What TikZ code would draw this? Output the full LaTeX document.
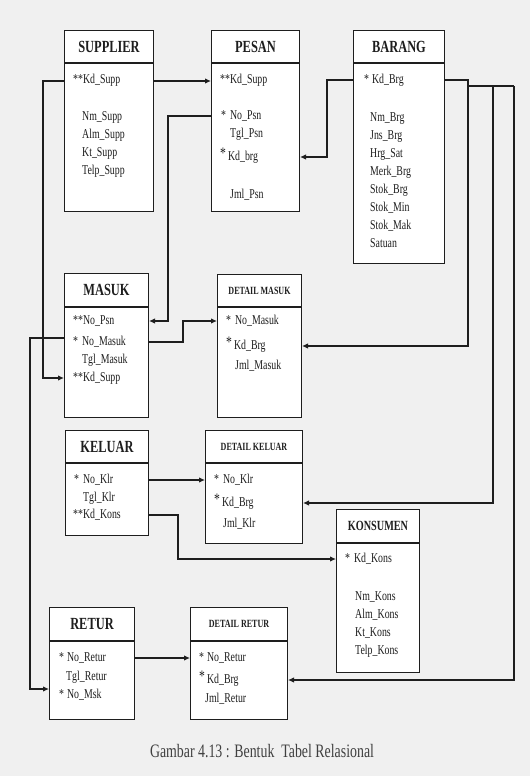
\documentclass[tikz,border=0pt]{standalone}
\usepackage{fontspec}
\setmainfont{Liberation Serif}[FakeStretch=0.73]
\usetikzlibrary{arrows.meta,calc}
\definecolor{bg}{HTML}{F0F0F0}
\definecolor{ink}{HTML}{1E1E1E}
\tikzset{
  tbox/.style={draw=ink, line width=1pt, fill=white, inner sep=0pt, anchor=north west, text=ink},
  thead/.style={tbox, font=\fontsize{17}{17}\selectfont\bfseries},
  dhead/.style={tbox, font=\fontsize{11}{11}\selectfont\bfseries},
  fld/.style={anchor=west, inner sep=0pt, text height=9pt, text depth=3pt, font=\fontsize{13.5}{16}\selectfont, text=ink},
  link/.style={draw=ink, line width=1.1pt},
  arr/.style={link, -{Latex[length=6pt,width=5.5pt]}},
  capt/.style={inner sep=0pt, font=\fontsize{19}{19}\selectfont, text=ink!85}
}
\newcommand{\bstar}{\raisebox{1.5pt}{\fontsize{16}{16}\selectfont *}}
\begin{document}
\begin{tikzpicture}[x=1pt,y=1pt]
\useasboundingbox (0,0) rectangle (530,-776);
\fill[bg] (0,0) rectangle (530,-776);

% SUPPLIER
\node[thead, minimum width=89pt, minimum height=32pt] (sh) at (64,-30) {SUPPLIER};
\node[tbox, minimum width=89pt, minimum height=148pt] (sb) at (sh.south west) {};
\node[fld] (s1) at (73,-81) {**Kd\_Supp};
\node[fld] (s2) at (82,-117) {Nm\_Supp};
\node[fld] (s3) at (82,-135) {Alm\_Supp};
\node[fld] (s4) at (82,-153) {Kt\_Supp};
\node[fld] (s5) at (82,-171) {Telp\_Supp};

% PESAN
\node[thead, minimum width=88pt, minimum height=32pt] (ph) at (211,-30) {PESAN};
\node[tbox, minimum width=88pt, minimum height=148pt] (pb) at (ph.south west) {};
\node[fld] (p1) at (220,-81) {**Kd\_Supp};
\node[fld] (p2) at (221,-116) {*\hspace{4pt}No\_Psn};
\node[fld] (p3) at (230,-134) {Tgl\_Psn};
\node[fld] (p4) at (220,-157) {\bstar\hspace{2pt}Kd\_brg};
\node[fld] (p5) at (230,-195) {Jml\_Psn};

% BARANG
\node[thead, minimum width=91pt, minimum height=32pt] (bh) at (353,-30) {BARANG};
\node[tbox, minimum width=91pt, minimum height=200pt] (bb) at (bh.south west) {};
\node[fld] (b1) at (364,-80) {*\hspace{3pt}Kd\_Brg};
\node[fld] (b2) at (370,-118) {Nm\_Brg};
\node[fld] (b3) at (370,-136) {Jns\_Brg};
\node[fld] (b4) at (370,-154) {Hrg\_Sat};
\node[fld] (b5) at (370,-172) {Merk\_Brg};
\node[fld] (b6) at (370,-190) {Stok\_Brg};
\node[fld] (b7) at (370,-208) {Stok\_Min};
\node[fld] (b8) at (370,-226) {Stok\_Mak};
\node[fld] (b9) at (370,-244) {Satuan};

% MASUK
\node[thead, minimum width=84pt, minimum height=33pt] (mh) at (64,-273) {MASUK};
\node[tbox, minimum width=84pt, minimum height=110pt] (mb) at (mh.south west) {};
\node[fld] (m1) at (73,-321) {**No\_Psn};
\node[fld] (m2) at (73,-342) {*\hspace{4pt}No\_Masuk};
\node[fld] (m3) at (82,-360) {Tgl\_Masuk};
\node[fld] (m4) at (73,-378) {**Kd\_Supp};

% DETAIL MASUK
\node[dhead, minimum width=84pt, minimum height=32pt] (dmh) at (217,-274) {DETAIL MASUK};
\node[tbox, minimum width=84pt, minimum height=110pt] (dmb) at (dmh.south west) {};
\node[fld] (dm1) at (226,-321) {*\hspace{4pt}No\_Masuk};
\node[fld] (dm2) at (226,-346) {\bstar\hspace{2pt}Kd\_Brg};
\node[fld] (dm3) at (235,-366) {Jml\_Masuk};

% KELUAR
\node[thead, minimum width=83pt, minimum height=32pt] (kh) at (65,-430) {KELUAR};
\node[tbox, minimum width=83pt, minimum height=72pt] (kb) at (kh.south west) {};
\node[fld] (k1) at (74,-480) {*\hspace{4pt}No\_Klr};
\node[fld] (k2) at (83,-498) {Tgl\_Klr};
\node[fld] (k3) at (73,-515) {**Kd\_Kons};

% DETAIL KELUAR
\node[dhead, minimum width=97pt, minimum height=32pt] (dkh) at (205,-430) {DETAIL KELUAR};
\node[tbox, minimum width=97pt, minimum height=80pt] (dkb) at (dkh.south west) {};
\node[fld] (dk1) at (214,-480) {*\hspace{4pt}No\_Klr};
\node[fld] (dk2) at (214,-503) {\bstar\hspace{2pt}Kd\_Brg};
\node[fld] (dk3) at (223,-524) {Jml\_Klr};

% KONSUMEN
\node[dhead, font=\fontsize{14}{14}\selectfont\bfseries, minimum width=83pt, minimum height=33pt] (knh) at (336,-509) {KONSUMEN};
\node[tbox, minimum width=83pt, minimum height=129pt] (knb) at (knh.south west) {};
\node[fld] (kn1) at (345,-559) {*\hspace{4pt}Kd\_Kons};
\node[fld] (kn2) at (355,-597) {Nm\_Kons};
\node[fld] (kn3) at (355,-615) {Alm\_Kons};
\node[fld] (kn4) at (355,-633) {Kt\_Kons};
\node[fld] (kn5) at (355,-651) {Telp\_Kons};

% RETUR
\node[thead, minimum width=85pt, minimum height=33pt] (rh) at (49,-607) {RETUR};
\node[tbox, minimum width=85pt, minimum height=78pt] (rb) at (rh.south west) {};
\node[fld] (r1) at (59,-658) {*\hspace{3pt}No\_Retur};
\node[fld] (r2) at (66,-677) {Tgl\_Retur};
\node[fld] (r3) at (59,-695) {*\hspace{3pt}No\_Msk};

% DETAIL RETUR
\node[dhead, minimum width=97pt, minimum height=33pt] (drh) at (190,-607) {DETAIL RETUR};
\node[tbox, minimum width=97pt, minimum height=78pt] (drb) at (drh.south west) {};
\node[fld] (dr1) at (199,-658) {*\hspace{3pt}No\_Retur};
\node[fld] (dr2) at (199,-680) {\bstar\hspace{2pt}Kd\_Brg};
\node[fld] (dr3) at (205,-699) {Jml\_Retur};

% caption
\node[capt] (cap) at (262,-751) {Gambar 4.13 : Bentuk \ Tabel Relasional};

% junction coordinates
\coordinate (j1) at (467,-86);
\coordinate (j2) at (493,-86);
\coordinate (j3) at (514,-86);
\coordinate (mL) at (64,-338);
\coordinate (rA) at (49,-689);

% connectors
\draw[arr] (sb.east |- s1) -- (pb.west |- s1);
\draw[arr] (sb.west |- s1) -- ++(-21,0) |- (mb.west |- m4);
\draw[arr] (pb.west |- p2) -- ++(-43,0) |- (mb.east |- m1);
\draw[arr] (bb.west |- b1) -- ++(-26,0) |- (pb.east |- p4);
\draw[arr] (bb.east |- b1) -- ++(23,0) |- (dmb.east |- dm2);
\draw[link] (j1) -- (j3);
\draw[arr] (j2) |- (dkb.east |- dk2);
\draw[arr] (j3) |- (drb.east |- dr2);
\draw[arr] (mb.east |- m2) -- ++(34,0) |- (dmb.west |- dm1);
\draw[arr] (mL) -- ++(-34,0) |- (rA);
\draw[arr] (kb.east |- k1) -- (dkb.west |- dk1);
\draw[arr] (kb.east |- k3) -- ++(29,0) |- (knb.west |- kn1);
\draw[arr] (rb.east |- r1) -- (drb.west |- dr1);
\end{tikzpicture}
\end{document}
